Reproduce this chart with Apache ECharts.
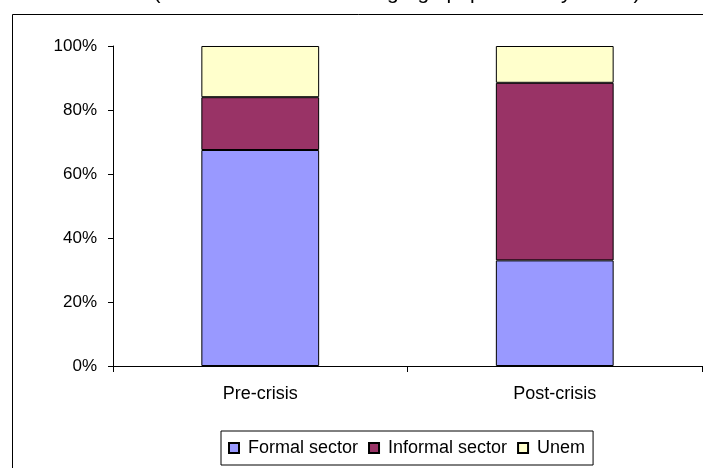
<!DOCTYPE html>
<html>
<head>
<meta charset="utf-8">
<script src="https://cdn.jsdelivr.net/npm/echarts@6/dist/echarts.min.js"></script>
<style>html,body{margin:0;padding:0;background:#fff}#c{width:703px;height:468px}</style>
</head>
<body>
<div id="c"></div>
<script>
var categories = ['Pre-crisis', 'Post-crisis'];
var formalSector = [67.5, 33];
var informalSector = [16.5, 55.5];
var unem = [16, 11.5];
var yTicks = [0, 20, 40, 60, 80, 100];
var titleText = '(distribution of the working-age population by status)';

var chart = echarts.init(document.getElementById('c'));
var font = 'Liberation Sans, Arial, sans-serif';
function mk(name, data, color) {
  return {
    name: name, type: 'bar', stack: 's', data: data, barWidth: '40%',
    itemStyle: { color: color, borderColor: '#000', borderWidth: 1 },
    emphasis: { disabled: true }
  };
}
chart.setOption({
  animation: false,
  graphic: [{
    type: 'rect', left: 10, top: 12, shape: { width: 800, height: 600 },
    style: { fill: 'none', stroke: '#000', lineWidth: 1 }, silent: true
  }],
  title: {
    text: titleText, left: 392, textAlign: 'center', top: -22,
    textStyle: { fontFamily: font, fontSize: 21, fontWeight: 'normal', color: '#000' }
  },
  grid: { left: 113, right: 1, top: 46, bottom: 102 },
  legend: {
    left: 221, top: 431, padding: [8, 8, 8, 7], itemGap: 10,
    itemWidth: 10, itemHeight: 10, icon: 'rect',
    borderColor: '#000', borderWidth: 1,
    textStyle: { fontFamily: font, fontSize: 18, color: '#000', padding: [0, 0, 0, 4] },
    data: ['Formal sector', 'Informal sector', 'Unem']
  },
  xAxis: {
    type: 'category', data: categories,
    axisLine: { lineStyle: { color: '#000' } },
    axisTick: { show: true, length: 6, lineStyle: { color: '#000' } },
    axisLabel: { fontFamily: font, fontSize: 18, color: '#000', margin: 19 }
  },
  yAxis: {
    type: 'value', min: 0, max: 100, interval: 20,
    axisLine: { show: true, lineStyle: { color: '#000' } },
    axisTick: { show: true, length: 5, lineStyle: { color: '#000' } },
    splitLine: { show: false },
    axisLabel: {
      fontFamily: font, fontSize: 17, color: '#000', margin: 16,
      formatter: function (v) { return yTicks.indexOf(v) >= 0 ? v + '%' : ''; }
    }
  },
  series: [
    mk('Formal sector', formalSector, '#9999FF'),
    mk('Informal sector', informalSector, '#993366'),
    mk('Unem', unem, '#FFFFCC')
  ]
});
</script>
</body>
</html>
